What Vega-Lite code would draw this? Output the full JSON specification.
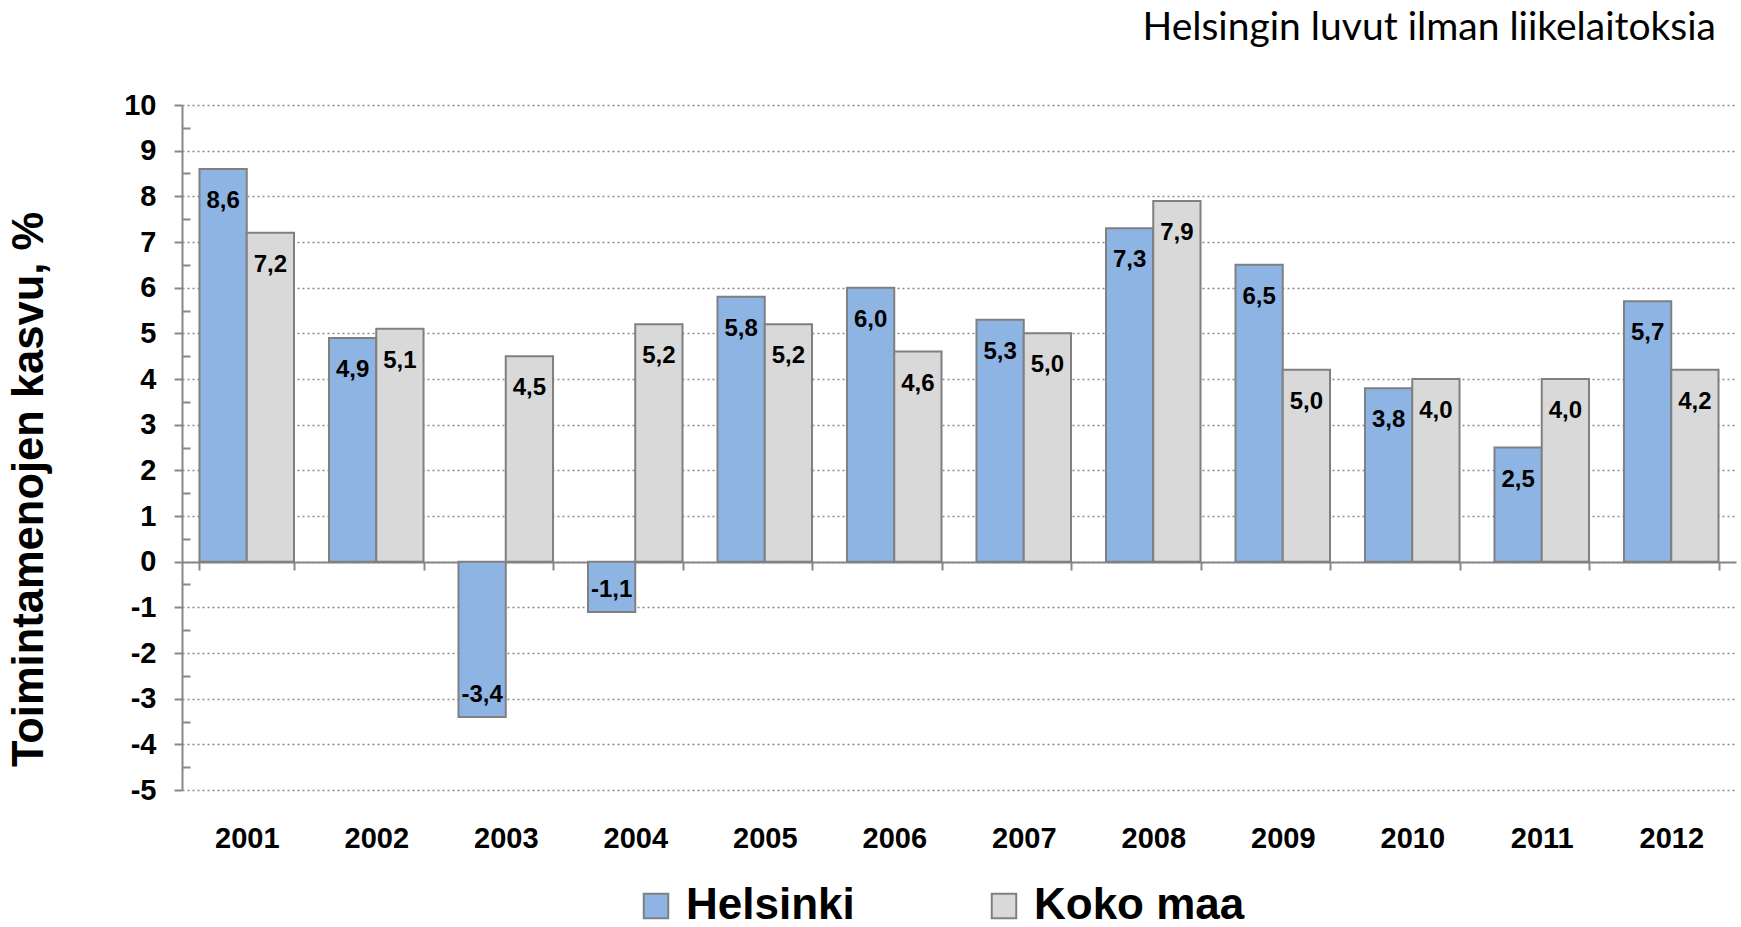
{
  "$schema": "https://vega.github.io/schema/vega-lite/v6.json",
  "width": 1554,
  "height": 685,
  "autosize": {"type": "none"},
  "padding": {"left": 182, "top": 105, "right": 5, "bottom": 137},
  "background": "white",
  "title": {"text": "Helsingin luvut ilman liikelaitoksia", "anchor": "end", "font": "Lato", "fontSize": 39, "fontWeight": "normal", "color": "#000", "offset": 43, "dx": -20},
  "config": {"view": {"stroke": null}},
  "data": {"values": [
    {"year": "2001", "series": "Helsinki", "value": 8.6, "label": "8,6"},
    {"year": "2001", "series": "Koko maa", "value": 7.2, "label": "7,2"},
    {"year": "2002", "series": "Helsinki", "value": 4.9, "label": "4,9"},
    {"year": "2002", "series": "Koko maa", "value": 5.1, "label": "5,1"},
    {"year": "2003", "series": "Helsinki", "value": -3.4, "label": "-3,4"},
    {"year": "2003", "series": "Koko maa", "value": 4.5, "label": "4,5"},
    {"year": "2004", "series": "Helsinki", "value": -1.1, "label": "-1,1"},
    {"year": "2004", "series": "Koko maa", "value": 5.2, "label": "5,2"},
    {"year": "2005", "series": "Helsinki", "value": 5.8, "label": "5,8"},
    {"year": "2005", "series": "Koko maa", "value": 5.2, "label": "5,2"},
    {"year": "2006", "series": "Helsinki", "value": 6.0, "label": "6,0"},
    {"year": "2006", "series": "Koko maa", "value": 4.6, "label": "4,6"},
    {"year": "2007", "series": "Helsinki", "value": 5.3, "label": "5,3"},
    {"year": "2007", "series": "Koko maa", "value": 5.0, "label": "5,0"},
    {"year": "2008", "series": "Helsinki", "value": 7.3, "label": "7,3"},
    {"year": "2008", "series": "Koko maa", "value": 7.9, "label": "7,9"},
    {"year": "2009", "series": "Helsinki", "value": 6.5, "label": "6,5"},
    {"year": "2009", "series": "Koko maa", "value": 4.2, "label": "5,0"},
    {"year": "2010", "series": "Helsinki", "value": 3.8, "label": "3,8"},
    {"year": "2010", "series": "Koko maa", "value": 4.0, "label": "4,0"},
    {"year": "2011", "series": "Helsinki", "value": 2.5, "label": "2,5"},
    {"year": "2011", "series": "Koko maa", "value": 4.0, "label": "4,0"},
    {"year": "2012", "series": "Helsinki", "value": 5.7, "label": "5,7"},
    {"year": "2012", "series": "Koko maa", "value": 4.2, "label": "4,2"}
  ]},
  "resolve": {"axis": {"y": "independent"}},
  "layer": [
    {
      "mark": {"type": "bar", "stroke": "#808080", "strokeWidth": 2},
      "encoding": {
        "x": {"field": "year", "type": "ordinal", "scale": {"paddingInner": 0.27, "paddingOuter": 0.135},
          "axis": {"title": null, "offset": -228, "labelPadding": 254, "tickBand": "extent", "tickSize": 8, "labelFont": "Liberation Sans", "labelFontWeight": "bold", "labelFontSize": 29, "labelColor": "#000", "domainColor": "#888", "domainWidth": 2, "tickColor": "#888", "tickWidth": 2, "labelAngle": 0, "grid": false}},
        "xOffset": {"field": "series", "type": "nominal", "scale": {"paddingInner": 0, "paddingOuter": 0}},
        "y": {"field": "value", "type": "quantitative", "scale": {"domain": [-5, 10], "nice": false, "zero": false},
          "axis": {"orient": "left", "title": "Toimintamenojen kasvu, %", "values": [-5,-4,-3,-2,-1,0,1,2,3,4,5,6,7,8,9,10], "labelExpr": "'' + datum.value", "tickSize": 8, "labelPadding": 18, "labelFont": "Liberation Sans", "labelFontWeight": "bold", "labelFontSize": 29, "labelColor": "#000", "domainColor": "#888", "domainWidth": 2, "tickColor": "#888", "tickWidth": 2, "grid": true, "gridDash": [2, 3], "gridColor": "#8a8a8a", "gridWidth": 1.5, "titleFont": "Liberation Sans", "titleFontSize": 43.5, "titleFontWeight": "bold", "titleColor": "#000", "titleX": -153, "titleY": 384, "titleAngle": -90, "titleAlign": "center", "titleBaseline": "middle"}},
        "fill": {"field": "series", "type": "nominal", "scale": {"domain": ["Helsinki", "Koko maa"], "range": ["#8EB4E3", "#D9D9D9"]},
          "legend": {"orient": "none", "legendX": 452, "legendY": 779, "direction": "horizontal", "title": null, "symbolType": "square", "symbolSize": 600, "symbolStrokeColor": "#808080", "symbolStrokeWidth": 2, "labelFont": "Liberation Sans", "labelFontSize": 44, "labelFontWeight": "bold", "labelColor": "#000", "labelLimit": 500, "columnPadding": 127, "labelOffset": 8}}
      }
    },
    {
      "transform": [{"filter": "datum.value >= 0"}],
      "mark": {"type": "text", "dy": 32, "baseline": "middle", "font": "Liberation Sans", "fontWeight": "bold", "fontSize": 24, "color": "#000"},
      "encoding": {
        "x": {"field": "year", "type": "ordinal"},
        "xOffset": {"field": "series", "type": "nominal"},
        "y": {"field": "value", "type": "quantitative", "axis": null},
        "text": {"field": "label"}
      }
    },
    {
      "transform": [{"filter": "datum.value < 0"}],
      "mark": {"type": "text", "dy": -22, "baseline": "middle", "font": "Liberation Sans", "fontWeight": "bold", "fontSize": 24, "color": "#000"},
      "encoding": {
        "x": {"field": "year", "type": "ordinal"},
        "xOffset": {"field": "series", "type": "nominal"},
        "y": {"field": "value", "type": "quantitative", "axis": null},
        "text": {"field": "label"}
      }
    },
    {
      "mark": {"type": "point", "opacity": 0},
      "encoding": {
        "y": {"field": "value", "type": "quantitative",
          "axis": {"orient": "right", "offset": -1554, "title": null, "values": [-4.5,-3.5,-2.5,-1.5,-0.5,0.5,1.5,2.5,3.5,4.5,5.5,6.5,7.5,8.5,9.5], "tickSize": 8, "labels": false, "domain": false, "grid": false, "tickColor": "#888", "tickWidth": 2}}
      }
    }
  ]
}
